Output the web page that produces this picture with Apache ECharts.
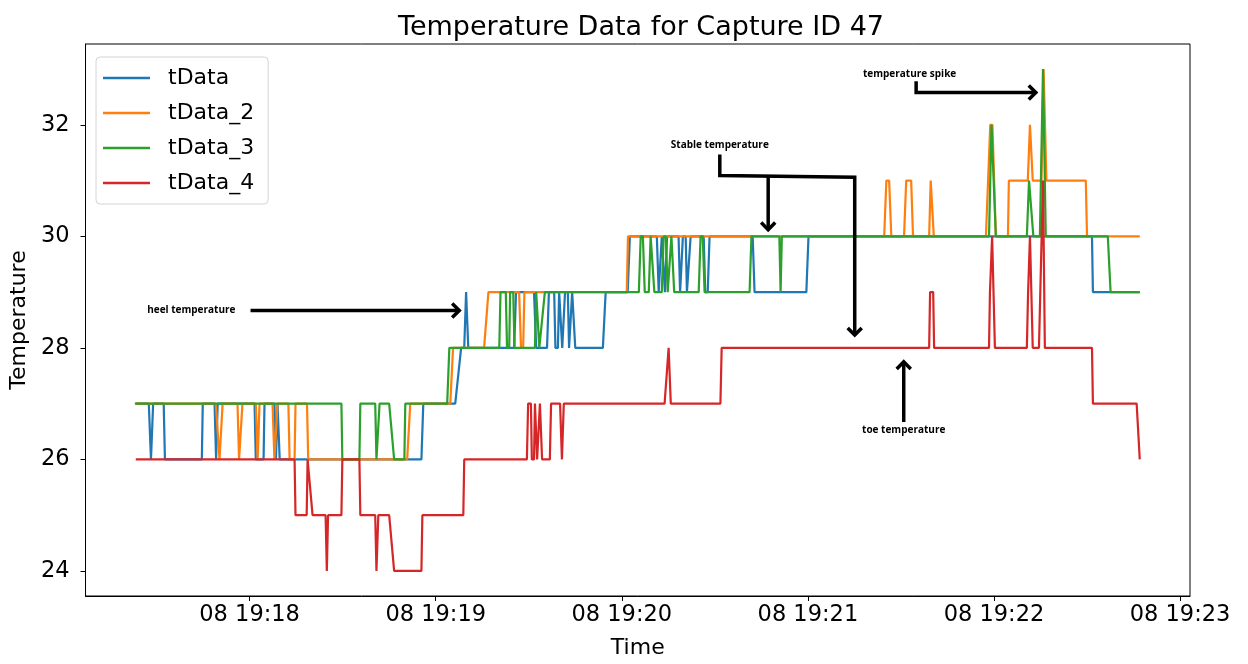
<!DOCTYPE html>
<html>
<head>
<meta charset="utf-8">
<script src="https://cdn.jsdelivr.net/npm/echarts@6/dist/echarts.min.js"></script>
<style>
  html, body { margin: 0; padding: 0; background: #fff; }
  #chart { width: 1248px; height: 664px; }
</style>
</head>
<body>
<div id="chart"></div>
<script>
// time = seconds after 08 19:17:00, value = temperature
const tData = [
  [23.0, 27], [27.5, 27], [28.2, 26], [28.9, 27], [32.3, 27], [32.7, 26], [44.6, 26], [44.9, 27],
  [48.7, 27], [49.2, 26], [49.7, 27], [61.6, 27], [62.0, 26], [64.5, 26], [64.8, 27],
  [68.0, 27], [68.5, 26], [69.0, 27], [69.7, 26], [115.4, 26], [116.0, 27], [126.3, 27], [128.2, 28],
  [129.2, 28], [129.8, 29], [130.5, 28], [145.3, 28], [145.9, 29], [151.7, 29], [152.4, 28],
  [155.9, 28], [156.5, 29], [158.2, 29], [158.6, 28], [159.4, 28], [159.8, 29], [160.4, 29], [160.8, 28],
  [161.3, 28], [161.7, 29], [162.6, 29], [163.0, 28], [163.6, 28], [164.0, 29], [164.6, 29], [165.0, 28],
  [173.9, 28], [174.8, 29], [181.9, 29], [182.6, 30], [191.3, 30], [191.9, 29], [192.3, 29], [192.9, 30],
  [193.5, 30], [193.9, 29], [194.2, 29], [194.6, 30], [198.3, 30], [198.8, 29], [199.3, 29], [199.7, 30],
  [200.6, 30], [201.0, 29], [201.6, 29], [202.2, 30], [206.4, 30], [206.9, 29], [207.7, 29], [208.3, 30],
  [222.2, 30], [222.8, 29], [239.5, 29], [240.2, 30], [331.6, 30], [331.9, 29], [347.0, 29]
];
const tData_2 = [
  [23.3, 27], [49.1, 27], [50.3, 26], [51.3, 27], [56.1, 27], [56.6, 26], [57.1, 26], [57.7, 27],
  [62.0, 27], [62.6, 26], [63.2, 27], [67.4, 27], [68.0, 26], [68.5, 26], [69.0, 27],
  [72.5, 27], [72.9, 26], [74.5, 26], [74.8, 27], [78.5, 27], [78.9, 26], [110.8, 26], [111.8, 27],
  [124.7, 27], [125.6, 28], [135.6, 28], [137.0, 29], [146.9, 29], [147.5, 28], [148.2, 28], [148.6, 29],
  [181.6, 29], [182.0, 30], [264.6, 30], [265.3, 31], [266.2, 31], [266.9, 30], [271.0, 30], [271.7, 31],
  [273.3, 31], [273.9, 30], [279.1, 30], [279.6, 31], [280.1, 31], [280.6, 30], [297.4, 30], [298.8, 32],
  [299.5, 32], [300.6, 30], [304.5, 30], [304.8, 31], [310.9, 31], [311.6, 32], [312.5, 31], [315.3, 31],
  [316.0, 33], [316.4, 33], [316.9, 31], [329.6, 31], [330.0, 30], [347.0, 30]
];
const tData_3 = [
  [23.3, 27], [89.6, 27], [89.9, 26], [95.4, 26], [95.7, 27], [100.5, 27], [100.9, 26], [101.5, 26],
  [101.9, 27], [105.0, 27], [106.6, 26], [109.9, 26], [110.2, 27], [123.7, 27], [124.4, 28], [140.5, 28],
  [140.9, 29], [142.6, 29], [143.0, 28], [143.7, 28], [144.0, 29], [145.0, 29], [145.4, 28], [152.0, 28],
  [152.4, 29], [153.0, 29], [153.4, 28], [154.0, 28], [155.2, 29], [185.5, 29], [186.1, 30], [186.8, 30],
  [187.4, 29], [188.7, 29], [189.3, 30], [189.9, 30], [190.5, 29], [192.9, 29], [193.5, 30], [194.2, 30],
  [194.8, 29], [195.4, 29], [196.0, 30], [196.4, 30], [196.9, 29], [204.8, 29], [205.4, 30], [206.1, 30],
  [206.7, 29], [221.2, 29], [221.8, 30], [230.8, 30], [231.2, 29], [231.6, 30], [298.4, 30], [299.2, 32],
  [299.6, 32], [300.6, 30], [310.6, 30], [311.3, 31], [311.8, 31], [312.7, 30], [314.8, 30], [315.8, 33],
  [316.1, 33], [316.7, 30], [336.7, 30], [337.6, 29], [347.0, 29]
];
const tData_4 = [
  [23.3, 26], [74.5, 26], [74.8, 25], [78.4, 25], [78.7, 26], [79.3, 26], [80.3, 25], [84.5, 25],
  [84.9, 24], [85.3, 25], [89.6, 25], [89.9, 26], [95.4, 26], [95.7, 25], [100.5, 25], [100.9, 24],
  [101.5, 25], [105.0, 25], [106.6, 24], [115.4, 24], [115.7, 25], [128.9, 25], [129.2, 26], [149.4, 26],
  [149.8, 27], [150.7, 27], [151.0, 26], [151.7, 26], [152.0, 27], [152.4, 27], [152.7, 26], [153.3, 26],
  [153.6, 27], [154.0, 27], [154.3, 26], [156.8, 26], [157.2, 27], [160.1, 27], [160.7, 26], [161.3, 27],
  [193.8, 27], [195.1, 28], [195.8, 27], [211.8, 27], [212.2, 28], [279.1, 28], [279.4, 29], [280.4, 29],
  [280.7, 28], [298.4, 28], [298.7, 29], [299.0, 29], [299.4, 30], [300.3, 28], [310.6, 28], [311.0, 29],
  [311.3, 29], [311.6, 30], [312.2, 30], [312.5, 28], [314.5, 28], [315.8, 31], [316.4, 28], [331.6, 28],
  [331.9, 27], [346.0, 27], [347.0, 26]
];

const seriesNames = ['tData', 'tData_2', 'tData_3', 'tData_4'];
const seriesColors = ['#1f77b4', '#ff7f0e', '#2ca02c', '#d62728'];
const minuteTicks = [60, 120, 180, 240, 300, 360];
const tempTicks = [24, 26, 28, 30, 32];

// annotations, in data coordinates [seconds, temperature]
const heelText = [41.2, 28.67];
const heelArrow = [[60.3, 28.67], [127.6, 28.67]];
const stableText = [211.6, 31.63];
const stableLine = [[211.6, 31.47], [211.6, 31.09], [255.1, 31.06], [255.1, 28.23]];
const stableBranch = [[227.2, 31.08], [227.2, 30.12]];
const spikeText = [272.8, 32.91];
const spikeArrow = [[274.9, 32.78], [274.9, 32.58], [313.5, 32.58]];
const toeText = [270.9, 26.53];
const toeArrow = [[270.9, 26.67], [270.9, 27.75]];

const chart = echarts.init(document.getElementById('chart'));
const font = 'DejaVu Sans';

chart.setOption({
  animation: false,
  title: {
    text: 'Temperature Data for Capture ID 47',
    left: 636,
    textAlign: 'center',
    top: 9,
    textStyle: { fontFamily: font, fontSize: 27, fontWeight: 'normal', color: '#000' }
  },
  legend: {
    orient: 'vertical',
    left: 96,
    top: 57,
    data: seriesNames,
    icon: 'rect',
    itemWidth: 47,
    itemHeight: 2.5,
    itemGap: 13,
    padding: [10, 14, 10, 7],
    borderColor: '#d4d4d4',
    borderWidth: 1,
    borderRadius: 4,
    backgroundColor: 'rgba(255,255,255,0.8)',
    textStyle: { fontFamily: font, fontSize: 22, color: '#000', lineHeight: 22, padding: [0, 0, 0, 13] }
  },
  grid: {
    left: 83, right: 58, top: 44, bottom: 68,
    show: true, borderColor: '#000', borderWidth: 1
  },
  xAxis: {
    type: 'value',
    min: 7.1,
    max: 363.2,
    name: 'Time',
    nameLocation: 'middle',
    nameGap: 41,
    nameTextStyle: { fontFamily: font, fontSize: 22, color: '#000' },
    axisLine: { lineStyle: { color: '#000' } },
    axisTick: { customValues: minuteTicks, length: 5, lineStyle: { color: '#000' } },
    axisLabel: {
      customValues: minuteTicks,
      margin: 8,
      fontFamily: font, fontSize: 22.5, color: '#000',
      formatter: v => '08 19:' + (17 + Math.round(v / 60))
    },
    splitLine: { show: false }
  },
  yAxis: {
    type: 'value',
    min: 23.55,
    max: 33.45,
    name: 'Temperature',
    nameLocation: 'middle',
    nameGap: 48,
    nameTextStyle: { fontFamily: font, fontSize: 22, color: '#000' },
    axisLine: { show: true, lineStyle: { color: '#000' } },
    axisTick: { show: true, customValues: tempTicks, length: 5, lineStyle: { color: '#000' } },
    axisLabel: { customValues: tempTicks, margin: 16, fontFamily: font, fontSize: 22.5, color: '#000' },
    splitLine: { show: false }
  },
  series: [tData, tData_2, tData_3, tData_4].map((d, i) => ({
    name: seriesNames[i],
    type: 'line',
    data: d,
    showSymbol: false,
    symbol: 'none',
    color: seriesColors[i],
    lineStyle: { width: 2.2, color: seriesColors[i] },
    z: 2 + i
  }))
});

// annotations drawn over the plot
const px = p => chart.convertToPixel({ xAxisIndex: 0, yAxisIndex: 0 }, p);

function arrowHead(pts) {
  const tip = pts[pts.length - 1], from = pts[pts.length - 2];
  const a = Math.atan2(tip[1] - from[1], tip[0] - from[0]);
  const L = 10, s = 0.78;
  return [
    [tip[0] - L * Math.cos(a - s), tip[1] - L * Math.sin(a - s)],
    tip,
    [tip[0] - L * Math.cos(a + s), tip[1] - L * Math.sin(a + s)]
  ];
}

function line(points, head) {
  const pts = points.map(px);
  const out = [{
    type: 'polyline', z: 100,
    shape: { points: pts },
    style: { stroke: '#000', lineWidth: 3.5, fill: null }
  }];
  if (head) {
    out.push({
      type: 'polyline', z: 100,
      shape: { points: arrowHead(pts) },
      style: { stroke: '#000', lineWidth: 3.5, fill: null }
    });
  }
  return out;
}

function label(text, pos) {
  const p = px(pos);
  return {
    type: 'text', z: 100, x: p[0], y: p[1],
    style: {
      text: text, fill: '#000',
      font: 'bold 10px "Open Sans"',
      align: 'center', verticalAlign: 'middle',
      textAlign: 'center', textVerticalAlign: 'middle'
    }
  };
}

chart.setOption({
  graphic: [].concat(
    label('heel temperature', heelText),
    line(heelArrow, true),
    label('Stable temperature', stableText),
    line(stableLine, true),
    line(stableBranch, true),
    label('temperature spike', spikeText),
    line(spikeArrow, true),
    label('toe temperature', toeText),
    line(toeArrow, true)
  )
});
</script>
</body>
</html>
